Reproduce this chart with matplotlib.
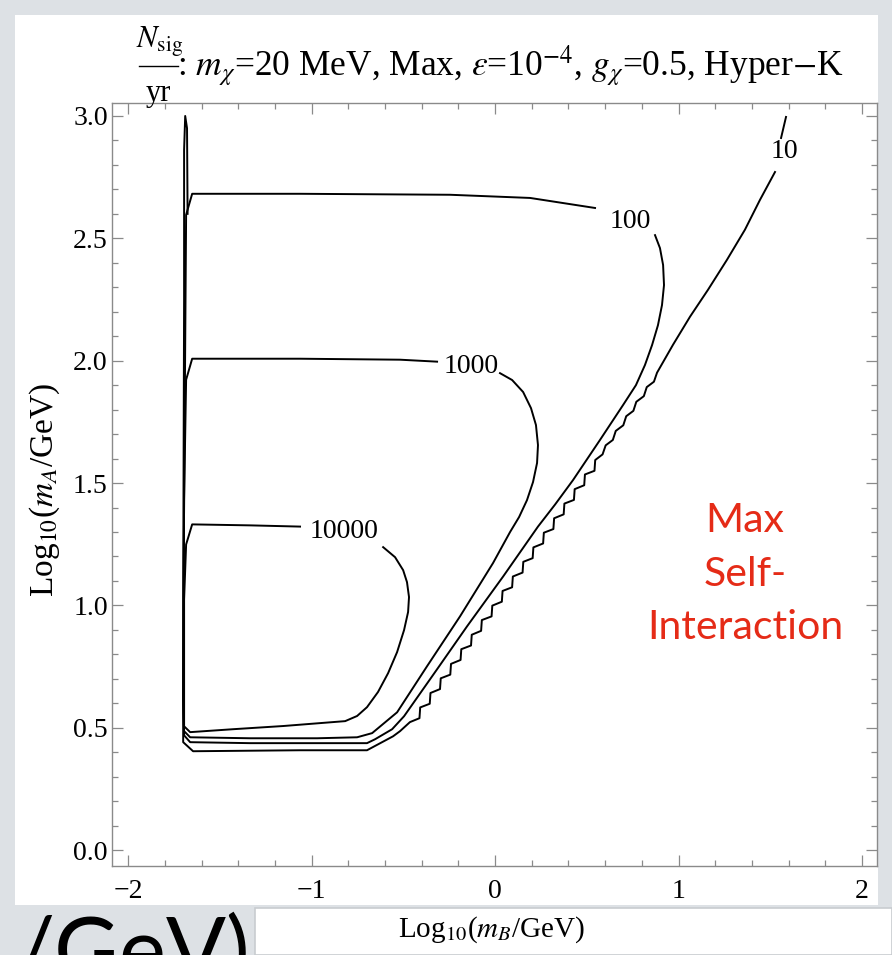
import matplotlib
matplotlib.use('Agg')
import matplotlib.pyplot as plt
from matplotlib.patches import Rectangle
from matplotlib.lines import Line2D
from matplotlib.ticker import MultipleLocator

plt.rcParams['font.family'] = ['Liberation Serif', 'DejaVu Serif']
plt.rcParams['mathtext.fontset'] = 'stix'

# contour N_sig/yr = 10 (upper stub above its label, then the long open curve)
c10_stub_x = [1.586, 1.559]
c10_stub_y = [2.996, 2.910]
c10_x = [1.526, 1.444, 1.362, 1.264, 1.161, 1.063, 0.970,
         0.883, 0.866, 0.827, 0.811, 0.770, 0.754, 0.715, 0.699, 0.658, 0.642,
         0.603, 0.586, 0.546, 0.542, 0.490, 0.486, 0.434, 0.430, 0.378, 0.374,
         0.322, 0.318, 0.266, 0.262, 0.209, 0.205, 0.154, 0.150, 0.097, 0.093,
         0.041, 0.037, -0.015, -0.019, -0.072, -0.076, -0.127, -0.131, -0.184,
         -0.188, -0.240, -0.244, -0.296, -0.300, -0.352, -0.356, -0.408, -0.412,
         -0.464,
         -0.518, -0.556, -0.698, -1.063, -1.646, -1.700, -1.700, -1.695, -1.695,
         -1.689, -1.679, -1.676]
c10_y = [2.771, 2.657, 2.535, 2.412, 2.290, 2.180, 2.065,
         1.951, 1.914, 1.892, 1.855, 1.832, 1.795, 1.773, 1.736, 1.713, 1.676,
         1.654, 1.617, 1.594, 1.550, 1.535, 1.491, 1.475, 1.431, 1.416, 1.372,
         1.356, 1.312, 1.297, 1.253, 1.237, 1.193, 1.178, 1.134, 1.118, 1.074,
         1.059, 1.015, 0.999, 0.955, 0.940, 0.896, 0.880, 0.836, 0.821,
         0.777, 0.761, 0.717, 0.702, 0.658, 0.642, 0.598, 0.583, 0.539,
         0.523,
         0.486, 0.465, 0.408, 0.408, 0.404, 0.441, 1.024, 2.249, 2.861,
         3.000, 2.950, 2.600]

c100_x = [0.872, 0.899, 0.916, 0.921, 0.910, 0.888, 0.856, 0.817, 0.768, 0.698,
          0.572, 0.425, 0.327, 0.234,
          0.044, -0.153, -0.316, -0.496, -0.561, -0.654, -0.698, -1.335, -1.662,
          -1.695, -1.700, -1.695, -1.684, -1.651, -1.063, -0.245, 0.191, 0.545]
c100_y = [2.513, 2.460, 2.391, 2.309, 2.227, 2.145, 2.064, 1.982, 1.900, 1.819,
          1.676, 1.512, 1.412, 1.322,
          1.118, 0.914, 0.739, 0.547, 0.494, 0.453, 0.437, 0.437, 0.441,
          0.469, 0.616, 1.433, 2.596, 2.682, 2.682, 2.678, 2.665, 2.624]

c1000_x = [0.027, 0.093, 0.153, 0.196, 0.223, 0.234, 0.229, 0.207, 0.174, 0.131,
           0.082, -0.011, -0.191, -0.371,
           -0.534, -0.670, -0.752, -0.970, -1.335, -1.662, -1.695, -1.700, -1.695,
           -1.684, -1.651, -1.063, -0.518, -0.316]
c1000_y = [1.949, 1.921, 1.872, 1.806, 1.737, 1.655, 1.582, 1.504, 1.430, 1.361,
           1.300, 1.173, 0.955, 0.751,
           0.563, 0.478, 0.461, 0.457, 0.457, 0.461, 0.486, 0.616, 1.433,
           1.922, 2.008, 2.008, 2.004, 1.996]

c10000_x = [-0.610, -0.545, -0.501, -0.480, -0.469, -0.474, -0.496, -0.534, -0.583,
            -0.638, -0.698, -0.752, -0.817,
            -1.155, -1.428, -1.662, -1.695, -1.695, -1.684, -1.651, -1.335, -1.063]
c10000_y = [1.238, 1.197, 1.144, 1.095, 1.034, 0.973, 0.899, 0.809, 0.723,
            0.646, 0.584, 0.548, 0.527,
            0.507, 0.494, 0.482, 0.506, 1.024, 1.249, 1.331, 1.327, 1.322]

labels = ['10', '100', '1000', '10000']
label_x = [1.575, 0.736, -0.131, -0.823]
label_y = [2.853, 2.567, 1.976, 1.302]

W, H = 892, 955
fig = plt.figure(figsize=(W / 100, H / 100), dpi=100)
fig.patch.set_facecolor('#dde1e5')

# slide panels (behind the axes)
fig.patches.append(Rectangle((15 / W, 1 - 905 / H), (878 - 15) / W, (905 - 15) / H,
                             transform=fig.transFigure, facecolor='white',
                             edgecolor='none', zorder=-5))
fig.patches.append(Rectangle((255 / W, 0), (W - 255) / W, (955 - 908) / H,
                             transform=fig.transFigure, facecolor='white',
                             edgecolor='#c8ccd0', lw=1.2, zorder=-5))

ax = fig.add_axes([112 / W, 1 - 866 / H, (877 - 112) / W, (866 - 103) / H])
ax.set_zorder(2)
ax.set_facecolor('white')

lw = 1.4
ax.plot(c10_stub_x, c10_stub_y, color='black', lw=lw)
ax.plot(c10_x, c10_y, color='black', lw=lw)
ax.plot(c100_x, c100_y, color='black', lw=lw)
ax.plot(c1000_x, c1000_y, color='black', lw=lw)
ax.plot(c10000_x, c10000_y, color='black', lw=lw)
for t, x, y in zip(labels, label_x, label_y):
    ax.text(x, y, t, ha='center', va='center', fontsize=20)

ax.set_xlim(-2.088, 2.082)
ax.set_ylim(-0.065, 3.053)
ax.xaxis.set_major_locator(MultipleLocator(1))
ax.xaxis.set_minor_locator(MultipleLocator(0.2))
ax.yaxis.set_major_locator(MultipleLocator(0.5))
ax.yaxis.set_minor_locator(MultipleLocator(0.1))
ax.xaxis.set_major_formatter(plt.FuncFormatter(lambda v, p: f'{v:.0f}'.replace('-', '\u2212')))
ax.yaxis.set_major_formatter(plt.FuncFormatter(lambda v, p: f'{v:.1f}'))
ax.tick_params(which='both', direction='in', top=True, right=True,
               color='#8a8a8a', width=0.9, labelsize=20)
ax.tick_params(axis='x', pad=9)
ax.tick_params(axis='y', pad=3)
ax.tick_params(which='major', length=8)
ax.tick_params(which='minor', length=4.5)
for s in ax.spines.values():
    s.set_color('#8a8a8a')
    s.set_linewidth(1.0)

# axis labels
fig.text(492 / W, 1 - 930 / H, r'Log$_{10}$($m_B$/GeV)', ha='center', va='center',
         fontsize=21, zorder=3)
fig.text(45 / W, 1 - 490 / H, r'Log$_{10}$($m_A$/GeV)', ha='center', va='center',
         fontsize=24, rotation=90)

# title: fraction N_sig / yr followed by the parameters
fig.text(160 / W, 1 - 42 / H, r'$N_{\rm sig}$', ha='center', va='center', fontsize=22)
fig.text(158 / W, 1 - 94 / H, 'yr', ha='center', va='center', fontsize=22)
fig.add_artist(Line2D([139 / W, 178 / W], [1 - 66 / H, 1 - 66 / H], color='black',
                      lw=1.0, transform=fig.transFigure))
fig.text(177 / W, 1 - 66 / H,
         r': $m_\chi$=20 MeV, Max, $\epsilon$=10$^{-4}$, $g_\chi$=0.5, Hyper$-$K',
         ha='left', va='center', fontsize=25.5)

# slide annotation
fig.text(745 / W, 1 - 574 / H, 'Max\nSelf-\nInteraction', ha='center', va='center',
         fontsize=29.5, color='#e52b17', family=['Lato', 'DejaVu Sans'],
         linespacing=1.55, zorder=5)
fig.text(14 / W, 1 - 914 / H, '/GeV)', ha='left', va='top', fontsize=64,
         color='black', family=['Lato', 'DejaVu Sans'])

fig.savefig('out.png', dpi=100, facecolor=fig.get_facecolor())
